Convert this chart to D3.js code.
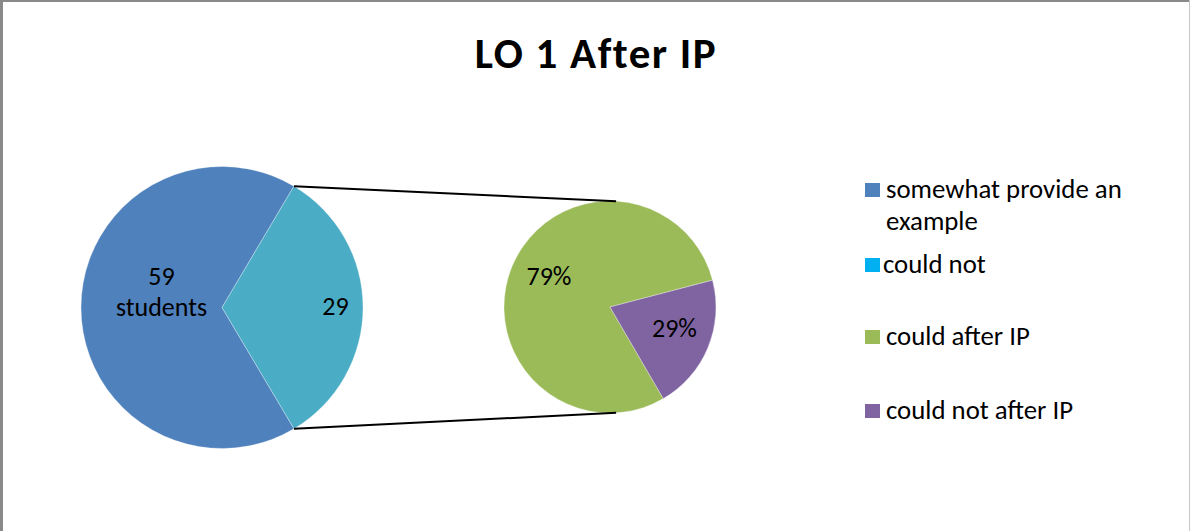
<!DOCTYPE html>
<html><head><meta charset="utf-8">
<script src="https://cdn.jsdelivr.net/npm/d3@7/dist/d3.min.js"></script>
<style>
html,body{margin:0;padding:0;background:#fff;}
svg{display:block;font-family:Carlito, Lato, "Open Sans", sans-serif;}
</style></head><body>
<svg id="c" width="1190" height="531"></svg>
<script>
const title = "LO 1 After IP";
const primaryCategories = ["somewhat provide an example", "could not"];
const primaryValues = [59, 29];
const primaryLabels = [["59", "students"], ["29"]];
const secondaryCategories = ["could after IP", "could not after IP"];
const secondaryValues = [23, 6];
const secondaryLabels = ["79%", "29%"];
const legendLabels = [["somewhat provide an", "example"], ["could not"], ["could after IP"], ["could not after IP"]];

const sliceColors = ["#4F81BD", "#4BACC6"];
const secColors = ["#9BBB59", "#8064A2"];
const legendColors = ["#4F81BD", "#00B0F0", "#9BBB59", "#8064A2"];

const svg = d3.select("#c");
const W = 1190, H = 531;
svg.append("rect").attr("x",0).attr("y",0).attr("width",W).attr("height",H).attr("fill","#fff");
// border
svg.append("line").attr("x1",1.5).attr("x2",1.5).attr("y1",0).attr("y2",H).attr("stroke","#898989").attr("stroke-width",3);
svg.append("line").attr("x1",0).attr("x2",W).attr("y1",1).attr("y2",1).attr("stroke","#898989").attr("stroke-width",2);
svg.append("line").attr("x1",1189.5).attr("x2",1189.5).attr("y1",0).attr("y2",H).attr("stroke","#c8c8c8").attr("stroke-width",1);

svg.append("text").attr("x",596).attr("y",68).attr("text-anchor","middle")
  .attr("font-size",43).attr("font-weight","bold").attr("letter-spacing",1.5).attr("fill","#000").text(title);

const deg = Math.PI/180;
// primary pie
const P = {cx:222, cy:307.5, r:141};
const pie1 = d3.pie().sort(null).startAngle(149.3*deg).endAngle(149.3*deg + 2*Math.PI);
const arcs1 = pie1(primaryValues);
const arc1 = d3.arc().innerRadius(0).outerRadius(P.r);
const g1 = svg.append("g").attr("transform",`translate(${P.cx},${P.cy})`);
g1.selectAll("path").data(arcs1).join("path").attr("d",arc1)
  .attr("fill",(d,i)=>sliceColors[i]).attr("stroke","#fff").attr("stroke-width",0.5).attr("stroke-opacity",0.6);

// secondary pie
const S = {cx:610, cy:307, r:106};
const pie2 = d3.pie().sort(null).startAngle(149.8*deg).endAngle(149.8*deg + 2*Math.PI);
const arcs2 = pie2(secondaryValues);
const arc2 = d3.arc().innerRadius(0).outerRadius(S.r);
const g2 = svg.append("g").attr("transform",`translate(${S.cx},${S.cy})`);
g2.selectAll("path").data(arcs2).join("path").attr("d",arc2)
  .attr("fill",(d,i)=>secColors[i]).attr("stroke","#fff").attr("stroke-width",0.5).attr("stroke-opacity",0.6);

// connector lines
const split = arcs1[1];
function pt(c, a, r){ return [c.cx + r*Math.sin(a), c.cy - r*Math.cos(a)]; }
const a0 = pt(P, split.startAngle, P.r), a1 = pt(P, split.endAngle, P.r);
const b0 = pt(S, 3.3*deg, S.r), b1 = pt(S, 176.7*deg, S.r);
[[a0,b0],[a1,b1]].forEach(([p,q])=>{
  svg.append("line").attr("x1",p[0]).attr("y1",p[1]).attr("x2",q[0]).attr("y2",q[1])
    .attr("stroke","#000").attr("stroke-width",2);
});

// labels
const lblFont = 26;
const t1 = svg.append("text").attr("font-size",lblFont).attr("text-anchor","middle").attr("fill","#000");
t1.append("tspan").attr("x",161.5).attr("y",285).text(primaryLabels[0][0]);
t1.append("tspan").attr("x",161.5).attr("y",316).text(primaryLabels[0][1]);
svg.append("text").attr("font-size",lblFont).attr("text-anchor","middle").attr("x",335.5).attr("y",315).text(primaryLabels[1][0]);
svg.append("text").attr("font-size",lblFont).attr("text-anchor","middle").attr("x",549).attr("y",285).text(secondaryLabels[0]);
svg.append("text").attr("font-size",lblFont).attr("text-anchor","middle").attr("x",674.5).attr("y",337).text(secondaryLabels[1]);

// legend
const legY = [190, 265, 337, 411];
const lg = svg.append("g");
legendLabels.forEach((lines,i)=>{
  lg.append("rect").attr("x",865).attr("y",legY[i]-7).attr("width",15).attr("height",14).attr("fill",legendColors[i]);
  const t = lg.append("text").attr("font-size",26.8).attr("fill","#000");
  lines.forEach((s,j)=>{
    t.append("tspan").attr("x", i===1 ? 883 : 886).attr("y", legY[i]+8 + j*32).text(s);
  });
});
</script>
</body></html>
